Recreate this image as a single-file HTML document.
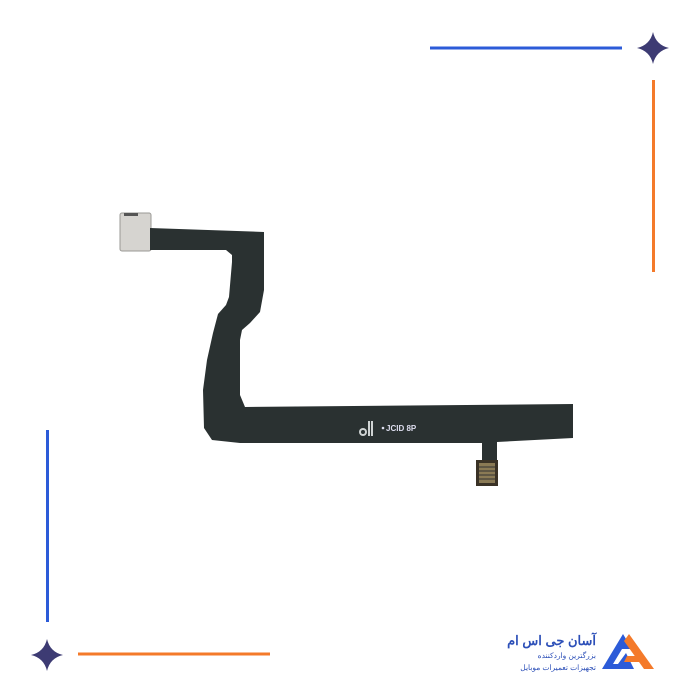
<!DOCTYPE html>
<html><head><meta charset="utf-8"><style>
html,body{margin:0;padding:0;background:#fff;width:700px;height:700px;overflow:hidden}
</style></head><body>
<svg width="700" height="700" viewBox="0 0 700 700" xmlns="http://www.w3.org/2000/svg">
<rect width="700" height="700" fill="#fff"/>
<!-- decorations -->
<rect x="430" y="46.5" width="192" height="3" fill="#2c5bd8"/>
<path d="M653,32 Q656,45 669,48 Q656,51 653,64 Q650,51 637,48 Q650,45 653,32Z" fill="#3d3b73"/>
<rect x="652" y="80" width="3" height="192" fill="#f47a2a"/>
<rect x="46" y="430" width="3" height="192" fill="#2c5bd8"/>
<path d="M47,639 Q50,652 63,655 Q50,658 47,671 Q44,658 31,655 Q44,652 47,639Z" fill="#3d3b73"/>
<rect x="78" y="652.5" width="192" height="3" fill="#f47a2a"/>
<!-- cable -->
<rect x="120" y="213" width="31" height="38" rx="2" fill="#d6d4d0" stroke="#9a9995" stroke-width="1"/>
<rect x="124" y="213" width="14" height="3" fill="#555"/>
<polygon fill="#2a3131" points="150,228 264,232 264,290 260,312 250,323 242,330 240,340 240,395 245,407 573,404 573,438 497,442 497,460 482,460 482,443 240,443 212,440 204,428 203,390 207,360 213,333 218,314 226,305 229,297 232,262 232,255 226,250 150,250"/>
<rect x="476" y="460" width="22" height="26" fill="#3a3226"/>
<rect x="479" y="463" width="16" height="20" fill="#8a7a55"/>
<g stroke="#333" stroke-width="1"><line x1="479" y1="467" x2="495" y2="467"/><line x1="479" y1="471" x2="495" y2="471"/><line x1="479" y1="475" x2="495" y2="475"/><line x1="479" y1="479" x2="495" y2="479"/></g>
<circle cx="363" cy="432" r="4" fill="#cfd3d3"/>
<circle cx="363" cy="432" r="2" fill="#2a3131"/>
<rect x="368" y="421" width="2" height="15" fill="#cfd3d3"/>
<rect x="371" y="421" width="2" height="15" fill="#cfd3d3"/>
<circle cx="383" cy="428" r="1.3" fill="#dde"/>
<text x="386" y="431" font-family="Liberation Sans, sans-serif" font-size="8" font-weight="bold" fill="#dde">JCID 8P</text>
<!-- logo -->
<polygon points="602,669 623,634 632,649 622,649 613,664 618,664 626,653 634,669" fill="#2c5bd8"/>
<polygon points="629,634 654,669 644,669 624,641" fill="#f47a2a"/>
<polygon points="627,656 637,656 640,662 624,662" fill="#f47a2a"/>
<text x="596" y="645" text-anchor="end" font-family="Liberation Sans, 'Noto Sans CJK SC', sans-serif" font-size="13" font-weight="bold" fill="#2c4fb8">آسان جی اس ام</text>
<text x="596" y="658" text-anchor="end" font-family="Liberation Sans, 'Noto Sans CJK SC', sans-serif" font-size="7.5" fill="#2c4fb8">بزرگترین واردکننده</text>
<text x="596" y="670" text-anchor="end" font-family="Liberation Sans, 'Noto Sans CJK SC', sans-serif" font-size="7.5" fill="#2c4fb8">تجهیزات تعمیرات موبایل</text>
</svg>
</body></html>
